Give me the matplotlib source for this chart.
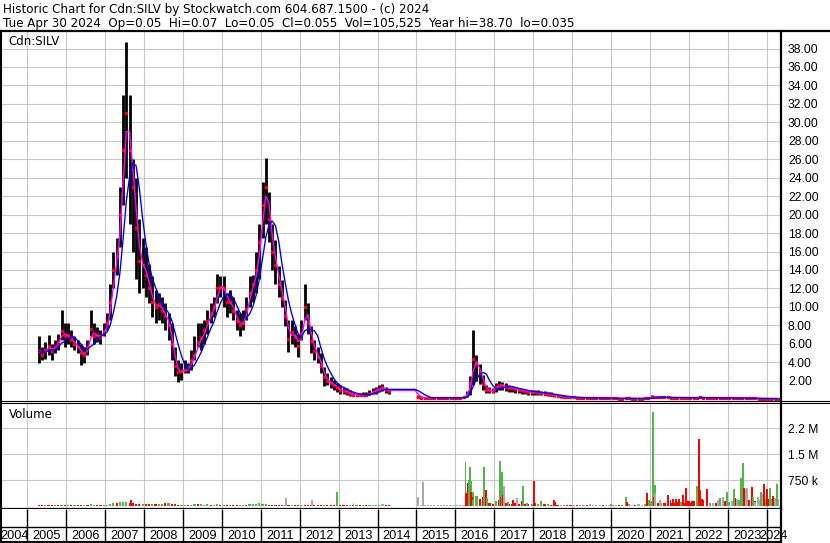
# -*- coding: utf-8 -*-
"""
Historic price chart for Cdn:SILV (Stockwatch style) -- monthly bars,
two moving averages and a daily-volume strip. Saves out.png.
"""

import matplotlib
matplotlib.use("Agg")
import matplotlib.pyplot as plt
from matplotlib.lines import Line2D
import numpy as np
import pandas as pd

# ---------------------------------------------------------------------------
# Colours / fonts
# ---------------------------------------------------------------------------
GRID    = "#c8c8c8"
UP      = "#4db848"
DOWN    = "#ff0000"
FLAT    = "#a9a9a9"
MA_FAST = "#ff00ff"
MA_SLOW = "#0000ff"
FONT    = "Liberation Sans"
WIDE    = "DejaVu Sans"     # header / panel captions are set wider

plt.rcParams["font.family"] = [FONT, "DejaVu Sans"]

# ---------------------------------------------------------------------------
# Data -- one value per month, Apr 2005 .. Apr 2024
# ---------------------------------------------------------------------------
nan = np.nan

price_hi = [
    6.8, 5.6, 6.2, 7.0, 6.0, 6.4, 7.1, 9.7, 8.2,                          # 2005
    8.2, 7.5, 6.8, 6.4, 6.0, 5.7, 6.4, 9.7, 8.2, 7.8, 7.5, 8.2,           # 2006
    9.3, 12.5, 16.0, 17.5, 23.0, 33.0, 38.7, 33.0, 26.0, 24.0, 19.5, 17.5,  # 2007
    16.5, 14.7, 13.3, 11.8, 11.5, 11.1, 10.4, 9.3, 8.2, 5.7, 4.2, 3.9,    # 2008
    4.2, 3.9, 5.3, 6.8, 8.2, 8.2, 8.6, 9.7, 10.4, 11.1, 13.6, 13.3,       # 2009
    13.3, 11.5, 11.8, 11.1, 9.7, 9.3, 9.7, 11.1, 13.3, 13.5, 16.0, 19.0,  # 2010
    23.5, 26.1, 22.5, 19.0, 17.2, 14.4, 12.9, 10.7, 8.6, 8.6, 7.9, 7.1,   # 2011
    8.6, 12.5, 10.4, 7.9, 6.4, 5.7, 5.0, 3.5, 2.8, 2.4, 2.1, 1.7,         # 2012
    1.5, 1.35, 1.2, 1.0, 0.8, 0.7, 0.7, 0.8, 0.8, 1.0, 1.2, 1.35,         # 2013
    1.5, 1.6, 1.3, 1.1, nan, nan, nan, nan, nan, nan, nan, nan,           # 2014
    0.5, 0.3, 0.25, 0.25, 0.2, 0.25, 0.2, 0.2, 0.2, 0.25, 0.2, 0.2,       # 2015
    0.2, 0.2, 0.35, 0.9, 2.5, 7.5, 4.8, 3.8, 2.6, 1.5, 1.3, 1.2,          # 2016
    1.8, 2.0, 1.9, 1.7, 1.5, 1.4, 1.35, 1.2, 1.15, 1.0, 1.0, 0.95,        # 2017
    1.0, 0.95, 0.9, 0.85, 0.8, 0.75, 0.6, 0.5, 0.45, 0.4, 0.35, 0.3,      # 2018
    0.3, 0.28, 0.25, 0.25, 0.22, 0.2, 0.2, 0.18, 0.18, 0.16, 0.15, 0.15,  # 2019
    0.15, 0.14, 0.12, 0.12, 0.15, 0.14, 0.12, 0.12, 0.12, 0.12, 0.12, 0.2,  # 2020
    0.4, 0.38, 0.3, 0.28, 0.3, 0.25, 0.25, 0.22, 0.22, 0.22, 0.2, 0.2,    # 2021
    0.2, 0.2, 0.2, 0.32, 0.25, 0.2, 0.2, 0.2, 0.2, 0.2, 0.18, 0.18,       # 2022
    0.18, 0.18, 0.18, 0.18, 0.16, 0.16, 0.15, 0.15, 0.14, 0.12, 0.1, 0.1,  # 2023
    0.09, 0.08, 0.08, 0.07,                                               # 2024
]

price_lo = [
    3.9, 4.2, 4.3, 4.8, 4.2, 5.0, 5.3, 6.4, 5.7,
    6.0, 5.7, 5.3, 5.0, 3.7, 3.9, 4.8, 6.8, 6.0, 6.2, 6.0, 6.8,
    7.5, 8.6, 12.0, 13.5, 16.5, 21.0, 24.0, 19.0, 16.0, 13.0, 11.5, 12.0,
    11.1, 10.4, 8.9, 8.2, 8.6, 8.2, 7.5, 6.4, 4.2, 2.5, 1.9, 2.1,
    2.8, 2.8, 3.2, 4.2, 5.7, 5.3, 6.0, 7.1, 8.2, 8.9, 10.4, 11.1,
    10.0, 8.9, 9.3, 8.6, 7.5, 6.8, 7.5, 8.6, 10.0, 10.5, 11.5, 13.0,
    17.5, 19.0, 17.0, 14.0, 12.5, 11.1, 10.0, 7.9, 5.1, 6.0, 5.7, 4.6,
    6.4, 8.6, 7.1, 5.0, 4.2, 3.9, 2.8, 1.4, 1.5, 1.2, 1.0, 0.8,
    0.6, 0.6, 0.45, 0.35, 0.3, 0.3, 0.3, 0.35, 0.35, 0.45, 0.55, 0.6,
    0.8, 0.9, 0.7, 0.6, nan, nan, nan, nan, nan, nan, nan, nan,
    0.15, 0.1, 0.08, 0.08, 0.08, 0.1, 0.08, 0.08, 0.08, 0.08, 0.08, 0.08,
    0.06, 0.08, 0.1, 0.2, 0.5, 1.5, 2.0, 1.6, 1.0, 0.7, 0.7, 0.7,
    0.8, 1.0, 1.0, 0.9, 0.8, 0.8, 0.7, 0.7, 0.6, 0.55, 0.45, 0.45,
    0.5, 0.5, 0.45, 0.4, 0.35, 0.3, 0.25, 0.2, 0.15, 0.15, 0.12, 0.1,
    0.1, 0.1, 0.08, 0.08, 0.07, 0.06, 0.06, 0.05, 0.05, 0.05, 0.05, 0.04,
    0.04, 0.04, 0.03, 0.03, 0.04, 0.04, 0.04, 0.04, 0.04, 0.04, 0.04, 0.05,
    0.1, 0.12, 0.1, 0.1, 0.1, 0.08, 0.08, 0.08, 0.08, 0.08, 0.08, 0.08,
    0.08, 0.08, 0.08, 0.1, 0.08, 0.07, 0.07, 0.07, 0.07, 0.06, 0.06, 0.06,
    0.06, 0.06, 0.06, 0.06, 0.05, 0.05, 0.05, 0.05, 0.04, 0.03, 0.03, 0.03,
    0.03, 0.035, 0.035, 0.05,
]

price_cl = [
    5.2, 4.8, 5.3, 5.8, 5.2, 5.7, 6.2, 7.4, 6.8,
    6.9, 6.4, 6.0, 5.6, 5.0, 4.8, 5.6, 7.6, 6.8, 7.0, 6.7, 7.4,
    8.3, 10.5, 14.0, 15.5, 20.0, 27.0, 31.0, 27.0, 23.0, 18.5, 15.0, 14.5,
    13.5, 12.0, 10.5, 10.0, 10.3, 9.5, 9.0, 8.0, 6.0, 3.6, 2.9, 3.0,
    3.2, 3.3, 4.2, 4.8, 6.2, 6.6, 7.5, 8.5, 9.3, 10.0, 12.0, 12.2,
    12.0, 10.5, 10.5, 9.5, 8.5, 8.0, 8.3, 9.8, 11.5, 12.5, 14.0, 17.0,
    21.0, 23.0, 19.5, 16.0, 14.5, 12.5, 11.0, 9.0, 6.5, 7.3, 6.7, 5.8,
    7.2, 10.0, 8.3, 6.3, 5.2, 4.6, 3.6, 2.4, 2.0, 1.7, 1.5, 1.2,
    1.0, 0.9, 0.8, 0.6, 0.5, 0.45, 0.45, 0.5, 0.5, 0.6, 0.8, 1.0,
    1.1, 1.3, 1.0, 0.9, nan, nan, nan, nan, nan, nan, nan, nan,
    0.25, 0.15, 0.14, 0.15, 0.13, 0.15, 0.14, 0.13, 0.13, 0.15, 0.14, 0.14,
    0.14, 0.15, 0.2, 0.5, 1.8, 4.4, 3.8, 2.9, 1.6, 1.0, 0.95, 0.9,
    1.3, 1.5, 1.5, 1.35, 1.25, 1.2, 1.1, 1.0, 0.95, 0.85, 0.8, 0.75,
    0.75, 0.7, 0.65, 0.6, 0.55, 0.5, 0.4, 0.35, 0.3, 0.25, 0.22, 0.2,
    0.18, 0.17, 0.15, 0.15, 0.14, 0.12, 0.12, 0.11, 0.1, 0.1, 0.1, 0.09,
    0.09, 0.08, 0.07, 0.07, 0.09, 0.08, 0.07, 0.07, 0.07, 0.07, 0.08, 0.12,
    0.25, 0.22, 0.2, 0.19, 0.2, 0.18, 0.17, 0.16, 0.16, 0.16, 0.15, 0.15,
    0.15, 0.15, 0.15, 0.2, 0.17, 0.14, 0.14, 0.13, 0.13, 0.13, 0.12, 0.12,
    0.12, 0.12, 0.12, 0.12, 0.11, 0.1, 0.1, 0.1, 0.09, 0.07, 0.06, 0.06,
    0.06, 0.05, 0.05, 0.055,
]

# typical daily volume per month (thousands) and its up/down/flat colour code
vol_base_k = [
    20, 25, 20, 30, 25, 20, 30, 40, 30,
    30, 25, 30, 25, 35, 30, 25, 45, 30, 30, 25, 35,
    40, 60, 80, 100, 120, 130, 110, 100, 80, 70, 60, 50,
    50, 60, 70, 60, 50, 70, 90, 80, 60, 50, 40, 40,
    30, 30, 40, 50, 60, 50, 40, 50, 40, 40, 50, 40,
    30, 30, 30, 25, 25, 30, 30, 40, 50, 60, 70, 80,
    60, 50, 40, 40, 30, 30, 25, 40, 30, 30, 25, 30,
    30, 40, 30, 25, 25, 20, 20, 25, 20, 20, 25, 20,
    20, 20, 20, 15, 20, 15, 20, 20, 25, 30, 30, 40,
    40, 50, 40, 30, 0, 0, 0, 0, 0, 0, 0, 0,
    40, 40, 40, 40, 40, 40, 40, 40, 40, 40, 40, 40,
    30, 30, 40, 150, 300, 400, 300, 200, 120, 100, 80, 60,
    150, 150, 100, 80, 70, 60, 80, 60, 60, 50, 60, 70,
    80, 60, 60, 50, 50, 40, 40, 40, 30, 30, 30, 30,
    30, 30, 30, 25, 30, 25, 30, 30, 30, 25, 25, 30,
    40, 30, 30, 40, 60, 50, 40, 40, 50, 40, 50, 80,
    150, 120, 100, 80, 100, 90, 100, 100, 120, 120, 100, 150,
    100, 120, 120, 200, 150, 100, 80, 80, 80, 100, 120, 120,
    130, 150, 150, 180, 220, 200, 180, 160, 150, 180, 180, 200,
    200, 200, 180, 200,
]

vol_base_side = "".join([
    "rrgrrgrgr",
    "grgrrgrggrrg", "gggrgggrrrrg", "rrgrggrgrrrg", "grggrgggrggr",
    "grgrrggrgggg", "ggrrrrrgrgrr", "grrrrrrgrrrr", "rrrgrgrgrggg",
    "gnrrnnnnnnnn", "rnnnnnnnnnnn", "nnnggggrrrrr", "ggrrrrrrrrrg",
    "rgrrgrrrngrr", "nrgnrnngnrnn", "gnrgngnrnngr", "gnrgrgrrrgrr",
    "rrrgrrgnrgrg", "gnrggnrgrnrg",
    "rgrn",
])

# individual high-volume days: decimal year, volume (thousands), colour code
spike_dates = [
    2007.65, 2011.64, 2012.32, 2012.96, 2013.38, 2015.05, 2015.16,
    2016.26, 2016.28, 2016.33, 2016.35, 2016.37, 2016.39, 2016.41, 2016.44,
    2016.46, 2016.52, 2016.70, 2016.73, 2016.76, 2016.78, 2016.82,
    2017.12, 2017.14, 2017.16, 2017.19, 2017.22, 2017.24, 2017.35, 2017.49,
    2017.58, 2017.72, 2017.73, 2017.84, 2018.01, 2018.19, 2018.53, 2018.57,
    2019.46, 2020.00, 2020.38, 2020.42, 2020.93, 2020.97,
    2021.07, 2021.09, 2021.10, 2021.12, 2021.14, 2021.26, 2021.46, 2021.53,
    2021.60, 2021.67, 2021.76, 2021.84, 2021.92, 2022.01, 2022.07, 2022.14,
    2022.22, 2022.25, 2022.27, 2022.30, 2022.33, 2022.37, 2022.46, 2022.76,
    2022.80, 2022.89, 2022.93, 2022.97, 2023.15, 2023.20, 2023.25, 2023.33,
    2023.40, 2023.42, 2023.46, 2023.49, 2023.62, 2023.66, 2023.70, 2023.79,
    2023.85, 2023.90, 2023.93, 2024.00, 2024.09, 2024.17, 2024.22, 2024.26,
]
spike_k = [
    170, 220, 180, 420, 100, 250, 700,
    1290, 390, 660, 750, 1140, 730, 420, 270,
    170, 130, 270, 1140, 280, 460, 220,
    170, 1310, 270, 1000, 320, 580, 130, 170,
    230, 150, 580, 80, 730, 150, 170, 130,
    60, 60, 260, 130, 370, 170,
    2730, 730, 270, 610, 370, 170, 320, 170,
    200, 200, 200, 320, 510, 150, 150, 150,
    580, 1940, 1090, 460, 200, 170, 490, 170,
    240, 250, 150, 400, 490, 240, 190, 800,
    1260, 510, 480, 510, 540, 250, 130, 270,
    400, 340, 640, 500, 510, 290, 220, 640,
]
spike_side = (
    "rnngnnn"
    "grrgggrr"
    "ggrggrg"
    "rgrgrngr"
    "nrggrgrr"
    "nggrrg"
    "ggrgnnrr"
    "rrrrrrrr"
    "grrrrrrn"
    "gnrggrng"
    "grnnrgnn"
    "gnrrgrng"
)

YEAR_LABELS = list(range(2004, 2025))
PRICE_TICKS = list(range(2, 40, 2))
VOL_TICKS   = [750_000, 1_500_000, 2_250_000]
VOL_LABELS  = ["750 k", "1.5 M", "2.2 M"]

HEADER_1 = "Historic Chart for Cdn:SILV by Stockwatch.com 604.687.1500 - (c) 2024"
HEADER_2 = ("Tue Apr 30 2024  Op=0.05  Hi=0.07  Lo=0.05  Cl=0.055  "
            "Vol=105,525  Year hi=38.70  lo=0.035")

# ---------------------------------------------------------------------------
# Layout (pixel positions on the 830 x 543 canvas)
# ---------------------------------------------------------------------------
W, H = 830, 543
X0, X1 = 1, 781
XMIN, XMAX = 2004.319, 2024.370


def fx(px):
    return px / W


def fy(py):
    return 1 - py / H


def hline(fig, py, lw=1.0, x_end=W):
    fig.add_artist(Line2D([fx(0), fx(x_end)], [fy(py), fy(py)],
                          color="black", lw=lw, transform=fig.transFigure))


def style_panel(ax):
    ax.set_xlim(XMIN, XMAX)
    ax.set_xticks(range(2005, 2025))
    ax.tick_params(axis="x", length=0, labelbottom=False)
    ax.tick_params(axis="y", length=0, pad=5, labelsize=8.7,
                   left=False, labelleft=False, right=True, labelright=True)
    ax.grid(True, color=GRID, lw=0.8)
    ax.set_axisbelow(True)
    for side in ("top", "bottom"):
        ax.spines[side].set_visible(False)
    ax.spines["left"].set_linewidth(1.5)
    ax.spines["right"].set_linewidth(1.6)


def main():
    months = pd.period_range("2005-04", "2024-04", freq="M")
    x = np.asarray(months.year + (months.month - 0.5) / 12.0, dtype=float)
    hi = np.asarray(price_hi, dtype=float)
    lo = np.asarray(price_lo, dtype=float)
    cl = pd.Series(price_cl, index=x, dtype=float)
    assert len(hi) == len(lo) == len(cl) == len(x) == len(vol_base_k) == len(vol_base_side)
    assert len(spike_dates) == len(spike_k) == len(spike_side)

    valid = cl.dropna()
    ma_fast = valid.rolling(2, min_periods=1).mean().reindex(x).ffill()
    ma_slow = valid.rolling(5, min_periods=1).mean().reindex(x).ffill()

    side_col = {"g": UP, "r": DOWN, "n": FLAT}

    fig = plt.figure(figsize=(W / 100, H / 100), dpi=100, facecolor="white")

    # --- price panel -------------------------------------------------------
    ax_p = fig.add_axes([fx(X0), fy(401), fx(X1 - X0), (401 - 31) / H])
    style_panel(ax_p)
    ax_p.set_ylim(-0.2, 39.9)
    ax_p.set_yticks(PRICE_TICKS)
    ax_p.set_yticklabels([f"{v:.2f}" for v in PRICE_TICKS])
    ax_p.vlines(x, lo, hi, color="black", lw=2.0, zorder=2)
    ax_p.plot(x, cl.values, ls="none", marker="s", ms=1.6, color=DOWN, zorder=3)
    ax_p.plot(x, ma_fast.values, color=MA_FAST, lw=1.0, zorder=4)
    ax_p.plot(x, ma_slow.values, color=MA_SLOW, lw=1.0, zorder=5)
    ax_p.text(fx(8 - X0) / fx(X1 - X0), (401 - 45) / (401 - 31), "Cdn:SILV",
              transform=ax_p.transAxes, fontsize=8.5, family=WIDE,
              va="baseline", ha="left")

    # --- volume panel ------------------------------------------------------
    ax_v = fig.add_axes([fx(X0), fy(509), fx(X1 - X0), (509 - 402) / H])
    style_panel(ax_v)
    ax_v.spines["bottom"].set_visible(True)
    ax_v.spines["bottom"].set_linewidth(1.6)
    ax_v.set_ylim(-87_000, 3_017_000)
    ax_v.set_yticks(VOL_TICKS)
    ax_v.set_yticklabels(VOL_LABELS)
    ax_v.bar(x, np.asarray(vol_base_k) * 1000, width=0.055, bottom=0,
             color=[side_col[c] for c in vol_base_side], lw=0, zorder=2)
    ax_v.bar(spike_dates, np.asarray(spike_k) * 1000, width=0.05, bottom=0,
             color=[side_col[c] for c in spike_side], lw=0, zorder=3)
    ax_v.text(fx(9 - X0) / fx(X1 - X0), (509 - 417.5) / (509 - 402), "Volume",
              transform=ax_v.transAxes, fontsize=8.5, family=WIDE,
              va="baseline", ha="left")

    # --- date strip --------------------------------------------------------
    ax_d = fig.add_axes([fx(X0), fy(542), fx(X1 - X0), (542 - 509) / H])
    ax_d.set_xlim(XMIN, XMAX)
    ax_d.set_ylim(0, 1)
    ax_d.set_xticks([])
    ax_d.set_yticks([])
    ax_d.spines["top"].set_visible(False)
    for side in ("left", "bottom"):
        ax_d.spines[side].set_linewidth(1.5)
    ax_d.spines["right"].set_linewidth(1.6)
    split = (542 - 527) / (542 - 509)
    ax_d.axhline(split, color="black", lw=1.0)
    ax_d.vlines(range(2005, 2025), 0, 1, color="black", lw=1.0)
    for yr in YEAR_LABELS:
        a, b = max(yr, XMIN), min(yr + 1, XMAX)
        ax_d.text((a + b) / 2, (542 - 539.3) / (542 - 509), str(yr),
                  fontsize=9.2, ha="center", va="baseline", clip_on=False)

    # --- frame lines and header ------------------------------------------
    hline(fig, 30.5, lw=1.6)
    hline(fig, 400.8, lw=0.8)
    hline(fig, 402.6, lw=0.8)
    fig.text(fx(3), fy(12.7), HEADER_1, fontsize=8.6, family=WIDE,
             va="baseline", ha="left")
    fig.text(fx(3), fy(27.0), HEADER_2, fontsize=8.6, family=WIDE,
             va="baseline", ha="left")

    fig.savefig("out.png", dpi=100, facecolor="white")
    plt.close(fig)


if __name__ == "__main__":
    main()
